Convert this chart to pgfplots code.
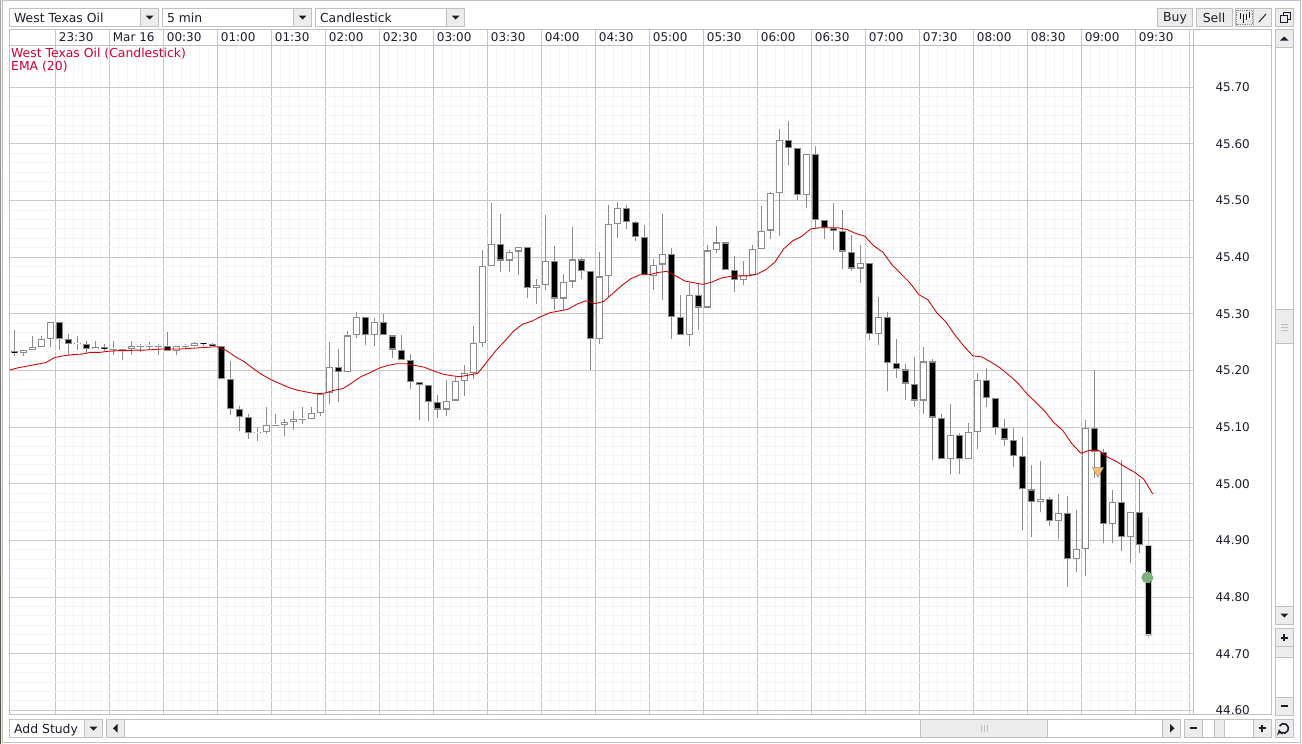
\documentclass[border=0pt]{standalone}
\usepackage{fontspec}
\setmainfont{DejaVu Sans}
\usepackage{pgfplots}
\usepackage{pgfplotstable}
\pgfplotsset{compat=1.18}

\definecolor{majorgrid}{HTML}{C8C8C8}
\definecolor{minorgrid}{HTML}{F4F4F4}
\definecolor{wick}{HTML}{8C8C8C}
\definecolor{emared}{HTML}{CC0000}
\definecolor{labelred}{HTML}{CC0033}
\definecolor{frame}{HTML}{C0C0C0}
\definecolor{btn}{HTML}{ECECEC}
\definecolor{ink}{HTML}{1C1C2C}
\definecolor{signal}{HTML}{F8BE6E}
\definecolor{lastprice}{HTML}{7FAE7F}
\definecolor{edgetop}{HTML}{A8A8A8}
\definecolor{edgemid}{HTML}{77786E}
\definecolor{edgebot}{HTML}{4A5240}

% x = bar number, prices in USD
\pgfplotstableread{
x open high low close
1 45.231 45.236 45.225 45.236
2 45.236 45.261 45.236 45.242
3 45.242 45.261 45.242 45.256
4 45.256 45.286 45.241 45.286
7 45.246 45.261 45.236 45.248
9 45.238 45.252 45.238 45.242
11 45.237 45.252 45.228 45.238
12 45.237 45.238 45.218 45.238
13 45.238 45.252 45.228 45.244
14 45.243 45.247 45.232 45.244
15 45.243 45.251 45.236 45.244
16 45.243 45.247 45.228 45.244
18 45.235 45.244 45.228 45.244
19 45.243 45.247 45.238 45.244
20 45.243 45.251 45.243 45.249
27 45.090 45.101 45.075 45.092
28 45.091 45.135 45.088 45.104
29 45.103 45.124 45.103 45.104
30 45.104 45.115 45.084 45.109
31 45.109 45.129 45.095 45.115
32 45.114 45.135 45.105 45.115
33 45.115 45.135 45.115 45.125
34 45.125 45.159 45.119 45.159
35 45.160 45.251 45.140 45.207
37 45.198 45.269 45.198 45.262
38 45.262 45.304 45.258 45.295
40 45.262 45.292 45.243 45.286
48 45.131 45.184 45.120 45.147
49 45.147 45.189 45.147 45.181
50 45.181 45.209 45.155 45.195
51 45.195 45.278 45.185 45.249
52 45.249 45.413 45.242 45.385
53 45.385 45.496 45.385 45.424
55 45.394 45.413 45.374 45.410
56 45.410 45.418 45.369 45.418
58 45.346 45.361 45.317 45.351
59 45.351 45.474 45.342 45.394
61 45.327 45.371 45.307 45.357
62 45.357 45.454 45.346 45.396
65 45.255 45.410 45.246 45.366
66 45.366 45.493 45.330 45.459
67 45.459 45.498 45.434 45.487
71 45.367 45.396 45.342 45.387
72 45.387 45.476 45.324 45.406
75 45.262 45.355 45.244 45.334
77 45.311 45.422 45.311 45.412
78 45.412 45.456 45.407 45.426
81 45.359 45.393 45.351 45.369
82 45.369 45.422 45.369 45.415
83 45.415 45.490 45.415 45.447
84 45.447 45.515 45.432 45.514
85 45.514 45.627 45.437 45.607
88 45.510 45.582 45.487 45.582
94 45.380 45.421 45.355 45.390
96 45.265 45.329 45.245 45.294
101 45.147 45.241 45.124 45.216
104 45.043 45.140 45.018 45.087
106 45.043 45.107 45.043 45.091
107 45.091 45.195 45.062 45.184
114 44.968 45.040 44.951 44.973
116 44.934 44.982 44.903 44.948
118 44.867 44.954 44.845 44.885
119 44.885 45.112 44.837 45.098
122 44.929 44.989 44.895 44.968
124 44.906 44.950 44.861 44.950
}\upbars

\pgfplotstableread{
x open high low close
0 45.235 45.272 45.225 45.231
5 45.286 45.286 45.236 45.256
6 45.256 45.265 45.228 45.247
8 45.247 45.252 45.231 45.238
10 45.242 45.247 45.234 45.238
17 45.244 45.268 45.235 45.235
21 45.249 45.249 45.243 45.247
22 45.247 45.249 45.243 45.243
23 45.244 45.244 45.185 45.185
24 45.185 45.216 45.122 45.132
25 45.132 45.138 45.093 45.118
26 45.118 45.124 45.079 45.090
36 45.207 45.238 45.145 45.198
39 45.295 45.295 45.245 45.262
41 45.286 45.300 45.262 45.262
42 45.262 45.262 45.222 45.237
43 45.237 45.262 45.219 45.219
44 45.219 45.230 45.167 45.179
45 45.179 45.179 45.112 45.175
46 45.175 45.175 45.110 45.145
47 45.145 45.156 45.116 45.131
54 45.424 45.477 45.374 45.394
57 45.418 45.418 45.328 45.346
60 45.394 45.420 45.306 45.327
63 45.396 45.399 45.361 45.376
64 45.376 45.376 45.201 45.255
68 45.487 45.492 45.450 45.462
69 45.462 45.464 45.428 45.436
70 45.436 45.456 45.369 45.369
73 45.406 45.417 45.256 45.295
74 45.295 45.334 45.262 45.262
76 45.334 45.353 45.272 45.311
79 45.426 45.426 45.378 45.378
80 45.378 45.403 45.339 45.359
86 45.607 45.641 45.562 45.593
87 45.593 45.593 45.501 45.510
89 45.582 45.597 45.451 45.466
90 45.466 45.466 45.432 45.452
91 45.452 45.496 45.412 45.447
92 45.447 45.483 45.379 45.410
93 45.410 45.439 45.376 45.380
95 45.390 45.390 45.254 45.265
97 45.294 45.304 45.163 45.213
98 45.213 45.255 45.186 45.202
99 45.202 45.212 45.148 45.177
100 45.177 45.223 45.135 45.147
102 45.216 45.221 45.042 45.117
103 45.117 45.124 45.043 45.043
105 45.087 45.090 45.018 45.043
108 45.184 45.204 45.136 45.151
109 45.151 45.151 45.087 45.098
110 45.098 45.115 45.067 45.078
111 45.078 45.098 45.029 45.049
112 45.049 45.082 44.918 44.990
113 44.990 45.034 44.906 44.968
115 44.973 44.976 44.926 44.934
117 44.948 44.978 44.817 44.867
120 45.098 45.200 45.010 45.056
121 45.056 45.061 44.895 44.929
123 44.968 45.042 44.881 44.906
125 44.950 45.009 44.877 44.892
}\downbars

% bar still forming
\pgfplotstableread{
x open high low close
126 44.892 44.942 44.728 44.732
}\lastbar

\pgfplotstableread{
x ema
-0.5 45.201
0.5 45.205
1.5 45.208
2.5 45.211
3.5 45.214
4.5 45.223
5.5 45.226
6.5 45.228
7.5 45.229
8.5 45.232
9.5 45.232
10.5 45.234
11.5 45.235
12.5 45.235
13.5 45.236
14.5 45.236
15.5 45.237
16.5 45.238
17.5 45.238
18.5 45.238
19.5 45.239
20.5 45.240
21.5 45.241
22.5 45.242
23.5 45.236
24.5 45.225
25.5 45.216
26.5 45.204
27.5 45.193
28.5 45.184
29.5 45.177
30.5 45.170
31.5 45.165
32.5 45.162
33.5 45.159
34.5 45.160
35.5 45.165
36.5 45.168
37.5 45.178
38.5 45.189
39.5 45.196
40.5 45.204
41.5 45.209
42.5 45.212
43.5 45.212
44.5 45.209
45.5 45.206
46.5 45.200
47.5 45.194
48.5 45.191
49.5 45.189
50.5 45.192
51.5 45.195
52.5 45.215
53.5 45.235
54.5 45.252
55.5 45.270
56.5 45.282
57.5 45.287
58.5 45.295
59.5 45.302
60.5 45.305
61.5 45.308
62.5 45.317
63.5 45.323
64.5 45.318
65.5 45.322
66.5 45.336
67.5 45.350
68.5 45.362
69.5 45.369
70.5 45.369
71.5 45.373
72.5 45.375
73.5 45.367
74.5 45.358
75.5 45.355
76.5 45.352
77.5 45.356
78.5 45.363
79.5 45.366
80.5 45.367
81.5 45.367
82.5 45.370
83.5 45.378
84.5 45.391
85.5 45.415
86.5 45.429
87.5 45.437
88.5 45.450
89.5 45.452
90.5 45.452
91.5 45.452
92.5 45.449
93.5 45.442
94.5 45.437
95.5 45.420
96.5 45.409
97.5 45.387
98.5 45.371
99.5 45.355
100.5 45.334
101.5 45.325
102.5 45.302
103.5 45.286
104.5 45.263
105.5 45.243
106.5 45.226
107.5 45.224
108.5 45.215
109.5 45.205
110.5 45.192
111.5 45.178
112.5 45.159
113.5 45.144
114.5 45.128
115.5 45.108
116.5 45.094
117.5 45.071
118.5 45.054
119.5 45.059
120.5 45.059
121.5 45.047
122.5 45.039
123.5 45.029
124.5 45.020
125.5 45.008
126.5 44.982
}\emadata

\newcommand\ui{\fontsize{12}{14}\selectfont}
\newcommand\uitext{\fontsize{12.4}{14}\selectfont}
% grey buttons and boxes of the trading window, in pixels from the top left
\newcommand\btnbox[4]{\draw[frame,fill=btn,line width=1pt] (#1,#2) rectangle (#3,#4);}
\newcommand\whitebox[4]{\draw[frame,fill=white,line width=1pt] (#1,#2) rectangle (#3,#4);}
\newcommand\downtri[2]{\fill[ink] (#1-4,#2-2) -- (#1+4,#2-2) -- (#1,#2+2) -- cycle;}
\newcommand\combo[4]{\whitebox{#1}{8.3}{#2}{26.5}\btnbox{#3}{8.3}{#2}{26.5}
  \downtri{#3/2+#2/2}{17.5}
  \node[anchor=base west,inner sep=0pt,ink,font=\uitext] at (#1+4.5,22) {#4};}

\begin{document}
\begin{tikzpicture}
\path[use as bounding box] (0pt,0pt) rectangle (1302pt,-744pt);

\begin{axis}[
  at={(9.7pt,-714.3pt)}, anchor=south west,
  x=9pt, y=566.4pt,
  xmin=-0.51, xmax=131,
  ymin=44.593, ymax=45.774,
  xtick={4.6,10.6,16.6,22.6,28.6,34.6,40.6,46.6,52.6,58.6,64.6,70.6,76.6,82.6,88.6,94.6,100.6,106.6,112.6,118.6,124.6,130.6},
  xticklabels={23:30,Mar 16,00:30,01:00,01:30,02:00,02:30,03:00,03:30,04:00,04:30,05:00,05:30,06:00,06:30,07:00,07:30,08:00,08:30,09:00,09:30,{}},
  ytick={44.6,44.7,44.8,44.9,45.0,45.1,45.2,45.3,45.4,45.5,45.6,45.7},
  minor x tick num=5, minor y tick num=5,
  grid=both,
  major grid style={majorgrid,line width=1pt},
  minor grid style={minorgrid,line width=1pt},
  axis line style={frame,line width=1pt},
  xtick pos=upper, ytick pos=upper,
  xticklabel pos=upper, yticklabel pos=upper,
  tick align=outside,
  major tick length=16pt, minor tick length=0pt,
  xtick style={majorgrid,line width=1pt},
  ytick style={draw=none},
  tick label style={font=\ui,text=ink,inner sep=0pt},
  xticklabel style={anchor=base west,xshift=3pt,yshift=-12pt},
  yticklabel style={anchor=west,xshift=6pt,/pgf/number format/.cd,fixed,fixed zerofill,precision=2,assume math mode=true},
  clip=true,
]
  % wicks
  \addplot[draw=none,mark=none,forget plot,error bars/.cd,y dir=plus,y explicit,error mark=none,
    error bar style={wick,line width=1pt}]
    table[x=x,y=low,y error plus expr={\thisrow{high}-\thisrow{low}}] {\upbars};
  \addplot[draw=none,mark=none,forget plot,error bars/.cd,y dir=plus,y explicit,error mark=none,
    error bar style={wick,line width=1pt}]
    table[x=x,y=low,y error plus expr={\thisrow{high}-\thisrow{low}}] {\downbars};
  \addplot[draw=none,mark=none,forget plot,error bars/.cd,y dir=plus,y explicit,error mark=none,
    error bar style={majorgrid,line width=1pt}]
    table[x=x,y=low,y error plus expr={\thisrow{high}-\thisrow{low}}] {\lastbar};
  % up bars
  \addplot[draw=none,mark=none,forget plot,error bars/.cd,y dir=plus,y explicit,error mark=none,
    error bar style={wick,line width=7pt}]
    table[x=x,y=open,y error plus expr={\thisrow{close}-\thisrow{open}}] {\upbars};
  \addplot[draw=none,mark=none,forget plot,error bars/.cd,y dir=plus,y explicit,error mark=none,
    error bar style={white,line width=4.6pt}]
    table[x=x,y expr={\thisrow{open}+0.002},y error plus expr={max(\thisrow{close}-\thisrow{open}-0.004,0.0003)}] {\upbars};
  % down bars
  \addplot[draw=none,mark=none,forget plot,error bars/.cd,y dir=plus,y explicit,error mark=none,
    error bar style={wick,line width=7pt}]
    table[x=x,y=close,y error plus expr={\thisrow{open}-\thisrow{close}}] {\downbars};
  \addplot[draw=none,mark=none,forget plot,error bars/.cd,y dir=plus,y explicit,error mark=none,
    error bar style={black,line width=4.6pt}]
    table[x=x,y expr={\thisrow{close}+0.002},y error plus expr={max(\thisrow{open}-\thisrow{close}-0.004,0.0003)}] {\downbars};
  \addplot[draw=none,mark=none,forget plot,error bars/.cd,y dir=plus,y explicit,error mark=none,
    error bar style={majorgrid,line width=7pt}]
    table[x=x,y=close,y error plus expr={\thisrow{open}-\thisrow{close}}] {\lastbar};
  \addplot[draw=none,mark=none,forget plot,error bars/.cd,y dir=plus,y explicit,error mark=none,
    error bar style={black,line width=4.6pt}]
    table[x=x,y expr={\thisrow{close}+0.002},y error plus expr={\thisrow{open}-\thisrow{close}-0.004}] {\lastbar};
  % EMA(20)
  \addplot[emared,line width=0.85pt,mark=none] table[x=x,y=ema] {\emadata};
  % sell signal and current price
  \addplot[only marks,mark=triangle*,mark size=6.5pt,
    mark options={rotate=180,fill=signal,draw=wick,line width=0.5pt}]
    coordinates {(120.4,45.023)};
  \addplot[only marks,mark=*,mark size=5.5pt,mark options={fill=lastprice,draw=lastprice,line width=0pt}]
    coordinates {(125.9,44.835)};
\end{axis}

\begin{scope}[x=1pt,y=-1pt]
  % hide what falls below the price pane, then the frames
  \fill[white] (1194,714.9) rectangle (1271,719);
  \shade[top color=edgetop,middle color=edgemid,bottom color=edgebot] (0,0) rectangle (1.2,744);
  \draw[frame,line width=1pt] (2,0.5) -- (1300.5,0.5) -- (1300.5,742.5) -- (2,742.5) -- cycle;
  \draw[frame,line width=1pt] (9.7,29.3) rectangle (1271.7,714.3);
  \draw[frame,line width=1pt] (9.7,45.3) -- (1271.7,45.3);
  \draw[frame,line width=1pt] (1193.3,29.3) -- (1193.3,714.3);
  \node[anchor=base west,inner sep=0pt,labelred,font=\uitext] at (11,57) {West Texas Oil (Candlestick)};
  \node[anchor=base west,inner sep=0pt,labelred,font=\uitext] at (11,70) {EMA (20)};

  % top row
  \combo{9.5}{158.3}{140.7}{West Texas Oil}
  \combo{162.3}{311.7}{293.3}{5 min}
  \combo{315.3}{464.3}{446.7}{Candlestick}
  \btnbox{1157.3}{8.3}{1192.7}{26.5}
  \node[inner sep=0pt,ink,font=\uitext] at (1175,17.8) {Buy};
  \btnbox{1196.3}{8.3}{1232}{26.5}
  \node[inner sep=0pt,ink,font=\uitext] at (1214,17.8) {Sell};
  \btnbox{1235}{8.3}{1253.7}{26.5}
  \draw[wick,line width=0.8pt,densely dotted] (1236.8,10) rectangle (1252,24.8);
  \btnbox{1253.7}{8.3}{1271.7}{26.5}
  \draw[ink,line width=1pt] (1240,13) -- (1240,19) (1243,14) -- (1243,23) (1246,14) -- (1246,20) (1249,12) -- (1249,18);
  \draw[ink,line width=1pt] (1259,22) -- (1266,14);
  \btnbox{1275.3}{8.3}{1293.3}{26.5}
  \draw[ink,line width=1pt] (1280,15) rectangle (1287,22) (1283,15) -- (1283,12) -- (1290,12) -- (1290,19) -- (1287,19);

  % price scrollbar
  \whitebox{1275.3}{29.3}{1293.3}{624.3}
  \btnbox{1275.3}{29.3}{1293.3}{47.7}
  \fill[ink] (1280,40.5) -- (1288.5,40.5) -- (1284.3,36.5) -- cycle;
  \btnbox{1275.3}{309.3}{1293.3}{343.3}
  \draw[frame,line width=1pt] (1281,324) -- (1288,324) (1281,327) -- (1288,327) (1281,330) -- (1288,330);
  \btnbox{1275.3}{606}{1293.3}{624.3}
  \downtri{1284.3}{615.5}
  % price zoom
  \whitebox{1275.3}{628.3}{1293.3}{715}
  \btnbox{1275.3}{628.3}{1293.3}{646.7}
  \draw[ink,line width=2pt] (1280.5,637.5) -- (1288,637.5) (1284.3,634) -- (1284.3,641);
  \btnbox{1275.3}{646.7}{1293.3}{657.3}
  \btnbox{1275.3}{697.3}{1293.3}{715}
  \draw[ink,line width=2pt] (1280.5,706) -- (1288,706);
  % bottom row
  \whitebox{9.7}{719}{102.7}{737.7}
  \btnbox{84.3}{719}{102.7}{737.7}
  \downtri{93.5}{728.5}
  \node[anchor=base west,inner sep=0pt,ink,font=\uitext] at (14,733) {Add Study};
  \whitebox{106}{719}{1180.7}{737.7}
  \btnbox{106}{719}{124.3}{737.7}
  \fill[ink] (113,728.3) -- (117.5,724) -- (117.5,732.5) -- cycle;
  \btnbox{920.3}{719}{1047.7}{737.7}
  \draw[frame,line width=1pt] (981,725) -- (981,732) (984,725) -- (984,732) (987,725) -- (987,732);
  \btnbox{1162.7}{719}{1180.7}{737.7}
  \fill[ink] (1174.5,728.3) -- (1170,724) -- (1170,732.5) -- cycle;
  \whitebox{1184.3}{719}{1271.7}{737.7}
  \btnbox{1184.3}{719}{1202.7}{737.7}
  \draw[ink,line width=2pt] (1189.5,728.3) -- (1197,728.3);
  \btnbox{1214.3}{719}{1224.3}{737.7}
  \btnbox{1253.3}{719}{1271.7}{737.7}
  \draw[ink,line width=2pt] (1258.5,728.3) -- (1266,728.3) (1262.3,724.5) -- (1262.3,732);
  \btnbox{1275.3}{719.3}{1293.3}{737.7}
  \draw[ink,line width=1.6pt,->,>=stealth] (1279.5,726) arc[start angle=150,end angle=-170,radius=4.8pt];
\end{scope}
\end{tikzpicture}
\end{document}
